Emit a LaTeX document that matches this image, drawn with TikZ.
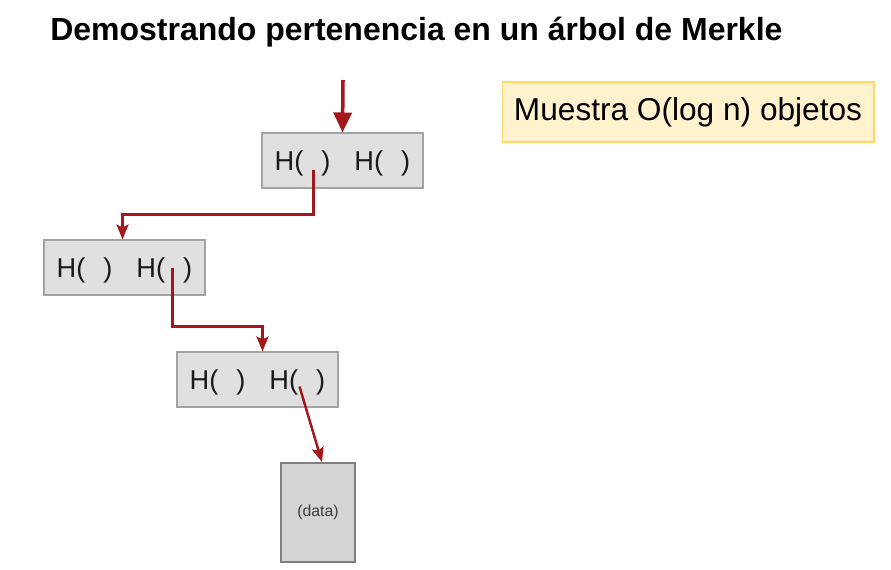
\documentclass[tikz,border=0pt]{standalone}
\usepackage{fontspec}
\setmainfont{Liberation Sans}
\usetikzlibrary{calc,positioning,arrows.meta}
\definecolor{MkRed}{HTML}{A3161A}
\definecolor{MkGray}{HTML}{E0E0E0}
\definecolor{MkBorder}{HTML}{A3A3A3}
\definecolor{MkData}{HTML}{D4D4D4}
\definecolor{MkDataBorder}{HTML}{7F7F7F}
\definecolor{MkNote}{HTML}{FFF2CC}
\definecolor{MkNoteBorder}{HTML}{FFD966}
\definecolor{MkText}{HTML}{1A1A1A}
\tikzset{
  mkBase/.style={
    text=MkText,
    inner sep=0pt,
    line width=0.6pt
  },
  mkHash/.style={
    mkBase,
    font=\fontsize{15.5pt}{17pt}\selectfont,
    fill=MkGray,
    draw=MkBorder,
    text height=0.5cm,
    text depth=0.12cm,
    minimum width=3.22cm,
    minimum height=1.1cm
  },
  mkData/.style={
    mkBase,
    font=\fontsize{9pt}{10pt}\selectfont,
    text=MkText!85,
    fill=MkData,
    draw=MkDataBorder,
    line width=1pt,
    minimum width=1.48cm,
    minimum height=1.98cm
  },
  mkNote/.style={
    mkBase,
    text=black,
    font=\fontsize{18pt}{20pt}\selectfont,
    fill=MkNote,
    draw=MkNoteBorder,
    minimum width=7.44cm,
    minimum height=1.2cm
  },
  mkTitle/.style={
    font=\fontsize{18.2pt}{20pt}\selectfont\bfseries,
    anchor=west,
    inner sep=0pt
  },
  mkArrow/.style={
    line width=1.4pt,
    color=MkRed,
    -{Stealth[length=3mm,width=2.4mm,inset=0.6mm]}
  },
  mkArrowBig/.style={
    line width=2pt,
    color=MkRed,
    -{Triangle[length=4mm,width=3.6mm]}
  }
}
\newcommand{\hpair}{H(\hspace{0.36cm})\hspace{0.48cm}H(\hspace{0.36cm})\hspace{0.12cm}}

\begin{document}
\begin{tikzpicture}[x=0.02cm, y=-0.02cm]
        \useasboundingbox (0,0) rectangle (891,569);

        \node (t1) [mkTitle] at (50,32) {Demostrando pertenencia en un árbol de Merkle};
        \node (n1) [mkNote] at (688,112) {Muestra O(log n) objetos};

        \node (h1) [mkHash] at (342.5,160.5) {\hpair};
        \node (h2) [mkHash] at (124.5,267.5) {\hpair};
        \node (h3) [mkHash] at (257.5,379.5) {\hpair};
        \node (d1) [mkData] at (318,512.5) {(data)};

        \coordinate (top) at (343,80);
        \coordinate (p1) at ($(h1.center)+(-29,9)$);
        \coordinate (p2) at ($(h2.center)+(48,0)$);
        \coordinate (p3) at ($(h3.center)+(42,7)$);

        \draw [mkArrowBig] (top) -- (h1.north);
        \draw [mkArrow] (p1) -- ++(0,45) -| ($(h2.north)+(-2,0)$);
        \draw [mkArrow] (p2) -- ++(0,59) -| ($(h3.north)+(5,0)$);
        \draw [mkArrow] (p3) -- ($(d1.north)+(4,0)$);
      \end{tikzpicture}
\end{document}
